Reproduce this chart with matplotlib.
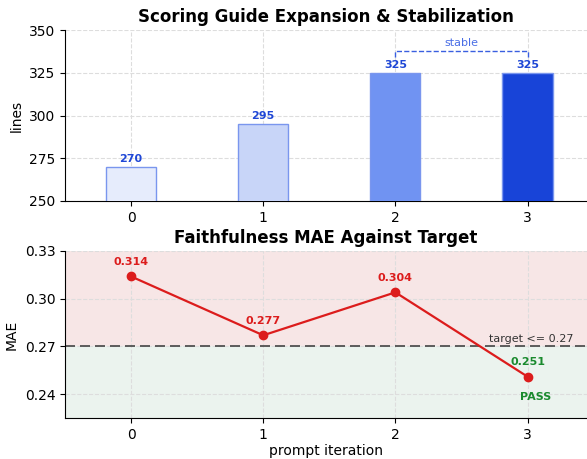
import matplotlib.pyplot as plt

iterations = [0, 1, 2, 3]
guide_lines = [270, 295, 325, 325]
bar_colors = ['#e6ecfc', '#c8d5f8', '#7093f2', '#1844d8']
mae = [0.314, 0.277, 0.304, 0.251]
target = 0.27

fig = plt.figure(figsize=(5.87, 4.59), dpi=100)
ax1 = fig.add_axes([65 / 587, 1 - 201 / 459, 1 - 65 / 587, 171 / 459])
ax2 = fig.add_axes([65 / 587, 1 - 418 / 459, 1 - 65 / 587, 167 / 459])

# --- barras
ax1.bar(iterations, guide_lines, width=0.38, color=bar_colors,
        edgecolor='#7a96ee', linewidth=1, zorder=3)
for x, v in zip(iterations, guide_lines):
    ax1.text(x, v + 1.5, f"{v}", ha='center', va='bottom', fontsize=8,
             fontweight='bold', color='#1f47d6')
ax1.plot([2, 2, 3, 3], [334.5, 337.7, 337.7, 334.5], ls='--', lw=1,
         color='#3a5fe0')
ax1.text(2.5, 339.5, "stable", ha='center', va='bottom', fontsize=8,
         color='#4a6ee6')
ax1.set_ylim(250, 350)
ax1.set_xlim(-0.5, 3.45)
ax1.set_xticks(iterations)
ax1.set_yticks([250, 275, 300, 325, 350])
ax1.set_ylabel('lines', fontsize=10)
ax1.set_title('Scoring Guide Expansion & Stabilization', fontsize=12,
              fontweight='bold', pad=6)
ax1.grid(True, ls='--', color='#dddddd', lw=0.8, zorder=0)
ax1.spines['top'].set_visible(False)
ax1.spines['right'].set_visible(False)

# --- linea MAE
ax2.axhspan(target, 0.33, color='#f7e6e6', zorder=0)
ax2.axhspan(0.225, target, color='#ebf3ee', zorder=0)
ax2.axhline(target, ls='--', color='#444444', lw=1.2, dashes=(6, 3), zorder=2)
ax2.text(3.35, target + 0.0015, 'target <= 0.27', ha='right', va='bottom',
         fontsize=8, color='#333333')
ax2.plot(iterations, mae, marker='o', color='#dc1c1c', lw=1.6, ms=6, zorder=4)
for x, v in zip(iterations, mae):
    c = '#dc1c1c' if v > target else '#1a8a2e'
    ax2.annotate(f"{v:.3f}", (x, v), xytext=(0, 7), textcoords='offset points',
                 ha='center', va='bottom', fontsize=8, fontweight='bold', color=c)
ax2.annotate('PASS', (3, mae[3]), xytext=(6, -11), textcoords='offset points',
             ha='center', va='top', fontsize=8, fontweight='bold',
             color='#1a8a2e')
ax2.set_ylim(0.225, 0.33)
ax2.set_xlim(-0.5, 3.45)
ax2.set_xticks(iterations)
ax2.set_yticks([0.24, 0.27, 0.30, 0.33])
ax2.set_yticklabels(['0.24', '0.27', '0.30', '0.33'])
ax2.set_ylabel('MAE', fontsize=10)
ax2.set_xlabel('prompt iteration', fontsize=10, labelpad=1.5)
ax2.set_title('Faithfulness MAE Against Target', fontsize=12,
              fontweight='bold', pad=6)
ax2.grid(True, ls='--', color='#dddddd', lw=0.8, zorder=1)
ax2.spines['top'].set_visible(False)
ax2.spines['right'].set_visible(False)

fig.savefig('out.png', dpi=100)
